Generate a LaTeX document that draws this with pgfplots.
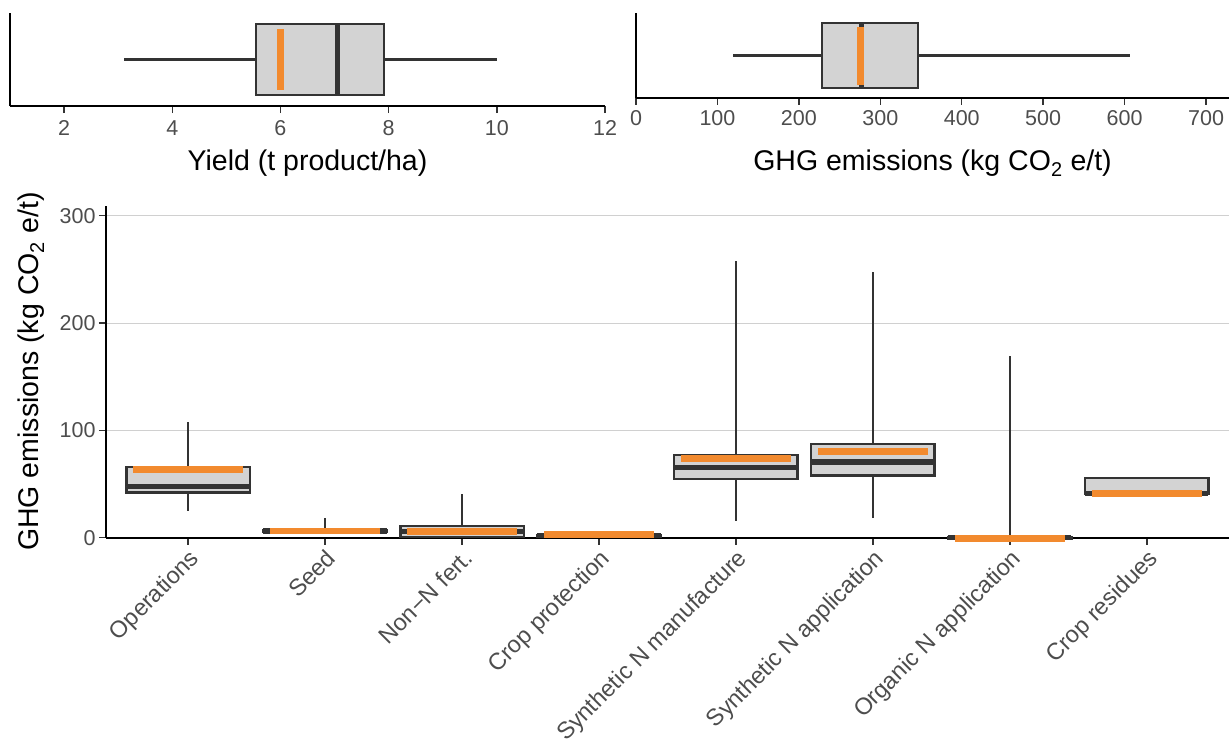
\documentclass[border=0pt]{standalone}
\usepackage{fontspec}
\setmainfont{Liberation Sans}
\usepackage{pgfplots}
\pgfplotsset{compat=1.18}
\usepgfplotslibrary{statistics}
\definecolor{boxgray}{HTML}{D3D3D3}
\definecolor{dark}{HTML}{333333}
\definecolor{meanorange}{HTML}{F28A2E}
\definecolor{tickgray}{HTML}{4D4D4D}
\definecolor{gridgray}{HTML}{D0D0D0}
\pgfplotsset{
  common/.style={
    scale only axis,
    axis x line*=bottom, axis y line*=left,
    axis line style={line width=2.2pt, black},
    tick style={line width=1.4pt, color=dark},
    tick align=outside,
    major tick length=7pt,
    tick label style={font=\fontsize{21.5}{26}\selectfont, color=tickgray},
    label style={font=\fontsize{28.5}{34}\selectfont, color=black},
    /pgf/number format/assume math mode=true,
    boxplot/whisker extend=0,
    boxplot/every box/.style={fill=boxgray, draw=dark, line width=2.3pt},
    boxplot/every median/.style={draw=dark, line width=5.3pt},
    boxplot/every whisker/.style={draw=dark, line width=2.5pt},
    clip=false,
  },
  bx/.style={fill=boxgray, draw=dark, line width=2.3pt, mark=none},
  mn/.style={draw=meanorange, line width=6.7pt, line cap=butt, mark=none},
}
\begin{document}
\begin{tikzpicture}
\path[use as bounding box] (0pt,0pt) rectangle (1229pt,-745pt);

% Top-left: yield
\begin{axis}[common,
  at={(10pt,-106pt)}, anchor=south west,
  width=595pt, height=92.7pt,
  xmin=1, xmax=12, ymin=0, ymax=1,
  xtick={2,4,6,8,10,12}, ytick=\empty,
  xticklabel shift=4pt,
  xlabel shift=7pt,
  xlabel={Yield (t product/ha)},
  boxplot/draw direction=x,
  boxplot/box extend=0.766,
]
\addplot[bx, boxplot prepared={draw position=0.5,
  lower whisker=3.11, lower quartile=5.55, median=7.05,
  upper quartile=7.91, upper whisker=10.0}] coordinates {};
\addplot[mn] coordinates {(6.0,0.173) (6.0,0.831)};
\end{axis}

% Top-right: total GHG
\begin{axis}[common,
  at={(636pt,-97.7pt)}, anchor=south west,
  width=593pt, height=84.4pt,
  xmin=0, xmax=728.2, ymin=0, ymax=1,
  xtick={0,100,...,700}, ytick=\empty,
  xticklabel shift=2pt,
  xlabel shift=18pt,
  xlabel={GHG emissions (kg CO\textsubscript{2} e/t)},
  boxplot/draw direction=x,
  boxplot/box extend=0.77,
]
\addplot[bx, boxplot prepared={draw position=0.5,
  lower whisker=118.6, lower quartile=228.5, median=277,
  upper quartile=346, upper whisker=606.6}] coordinates {};
\addplot[mn] coordinates {(276,0.15) (276,0.834)};
\end{axis}

% Main panel
\begin{axis}[common,
  at={(106pt,-537.7pt)}, anchor=south west,
  width=1123pt, height=332pt,
  xmin=0.4, xmax=8.6, ymin=0, ymax=309.4,
  xtick={1,...,8},
  xticklabels={Operations, Seed, Non−N fert., Crop protection,
    Synthetic N manufacture, Synthetic N application,
    Organic N application, Crop residues},
  xticklabel style={rotate=45, anchor=north east, inner sep=2pt,
    font=\fontsize{23.5}{28}\selectfont},
  ytick={0,100,200,300},
  ymajorgrids,
  major grid style={line width=1pt, color=gridgray},
  ylabel shift=8pt,
  ylabel={GHG emissions (kg CO\textsubscript{2} e/t)},
  boxplot/draw direction=y,
  boxplot/box extend=0.9,
]
% Operations
\addplot[bx, boxplot prepared={draw position=1,
  lower whisker=25.2, lower quartile=42, median=47.5,
  upper quartile=65.9, upper whisker=108}] coordinates {};
\addplot[mn] coordinates {(0.6,63.7) (1.4,63.7)};
% Seed
\addplot[bx, boxplot prepared={draw position=2,
  lower whisker=4, lower quartile=5.6, median=6.3,
  upper quartile=6.9, upper whisker=18.6}] coordinates {};
\addplot[mn] coordinates {(1.6,6.2) (2.4,6.2)};
% Non-N fert.
\addplot[bx, boxplot prepared={draw position=3,
  lower whisker=0.5, lower quartile=0.8, median=6.0,
  upper quartile=10.9, upper whisker=40.4}] coordinates {};
\addplot[mn] coordinates {(2.6,6.0) (3.4,6.0)};
% Crop protection
\addplot[bx, boxplot prepared={draw position=4,
  lower whisker=0.5, lower quartile=1.2, median=2.0,
  upper quartile=2.8, upper whisker=5}] coordinates {};
\addplot[mn] coordinates {(3.6,3.3) (4.4,3.3)};
% Synthetic N manufacture
\addplot[bx, boxplot prepared={draw position=5,
  lower whisker=15.9, lower quartile=55, median=65.4,
  upper quartile=77, upper whisker=257.9}] coordinates {};
\addplot[mn] coordinates {(4.6,74) (5.4,74)};
% Synthetic N application
\addplot[bx, boxplot prepared={draw position=6,
  lower whisker=18, lower quartile=58.1, median=70.5,
  upper quartile=87.3, upper whisker=247.9}] coordinates {};
\addplot[mn] coordinates {(5.6,80.5) (6.4,80.5)};
% Organic N application
\addplot[bx, boxplot prepared={draw position=7,
  lower whisker=-1.5, lower quartile=-1, median=0,
  upper quartile=0.8, upper whisker=169.6}] coordinates {};
\addplot[mn] coordinates {(6.6,-0.9) (7.4,-0.9)};
% Crop residues
\addplot[bx, boxplot prepared={draw position=8,
  lower whisker=40.7, lower quartile=40.7, median=41.2,
  upper quartile=55.9, upper whisker=55.9}] coordinates {};
\addplot[mn] coordinates {(7.6,41.4) (8.4,41.4)};
\end{axis}
\end{tikzpicture}
\end{document}
